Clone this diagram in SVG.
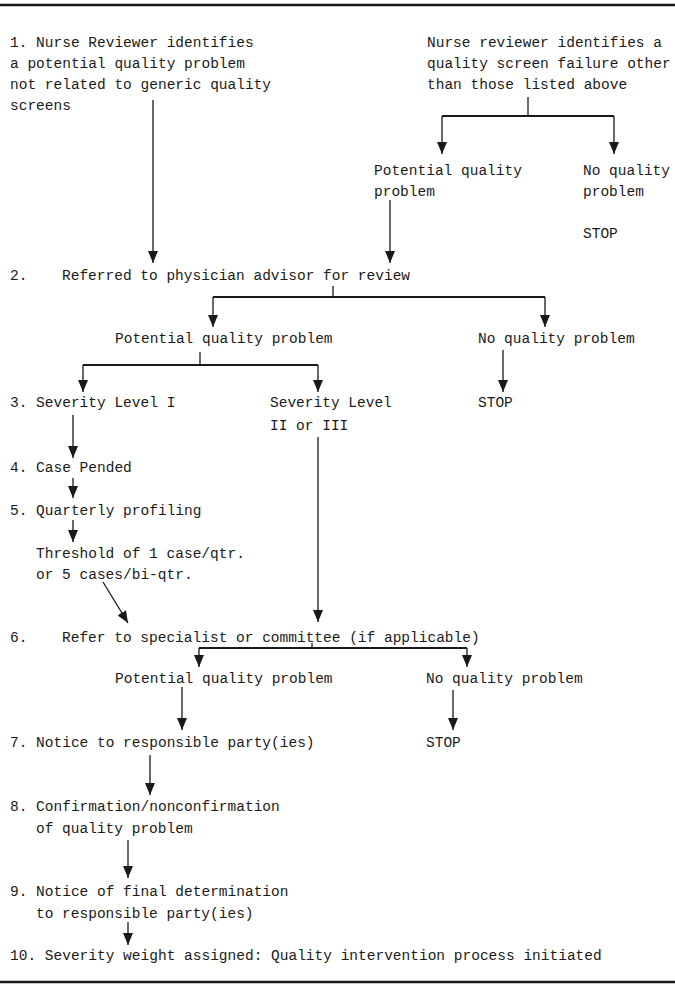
<svg xmlns="http://www.w3.org/2000/svg" width="675" height="987" viewBox="0 0 675 987">
<defs>
<marker id="ah" viewBox="0 0 12 10" refX="12" refY="5" markerWidth="12" markerHeight="10" markerUnits="userSpaceOnUse" orient="auto">
<path d="M0,0 L12,5 L0,10 z" fill="#1a1a1a"/>
</marker>
<style>
text{font-family:"Liberation Mono","DejaVu Sans Mono",monospace;font-size:14.5px;fill:#1a1a1a}
.ln{stroke:#1a1a1a;stroke-width:1.3;fill:none}
.ar{stroke:#1a1a1a;stroke-width:1.3;fill:none;marker-end:url(#ah)}
.bar{stroke:#1a1a1a;stroke-width:2;fill:none}
.rule{stroke:#1a1a1a;stroke-width:2.5}
</style>
</defs>
<rect width="675" height="987" fill="#fff"/>
<line class="rule" x1="0" y1="5" x2="675" y2="5"/>
<line class="rule" x1="0" y1="982" x2="675" y2="982"/>

<g id="n1"><text x="10" y="47">1. Nurse Reviewer identifies</text><text x="10" y="68">a potential quality problem</text><text x="10" y="89">not related to generic quality</text><text x="10" y="110">screens</text></g>
<g id="nScreen"><text x="427" y="47">Nurse reviewer identifies a</text><text x="427" y="68">quality screen failure other</text><text x="427" y="89">than those listed above</text></g>
<g id="nPot1"><text x="374" y="175">Potential quality</text><text x="374" y="196">problem</text></g>
<g id="nNo1"><text x="583" y="175">No quality</text><text x="583" y="196">problem</text><text x="583" y="238">STOP</text></g>
<g id="n2"><text x="10" y="280">2.</text><text x="62" y="280">Referred to physician advisor for review</text></g>
<g id="nPot2"><text x="115" y="343">Potential quality problem</text></g>
<g id="nNo2"><text x="478" y="343">No quality problem</text></g>
<g id="nStop2"><text x="478" y="407">STOP</text></g>
<g id="n3"><text x="10" y="407">3. Severity Level I</text></g>
<g id="n3b"><text x="270" y="407">Severity Level</text><text x="270" y="430">II or III</text></g>
<g id="n4"><text x="10" y="472">4. Case Pended</text></g>
<g id="n5"><text x="10" y="515">5. Quarterly profiling</text></g>
<g id="nThr"><text x="36" y="558">Threshold of 1 case/qtr.</text><text x="36" y="579">or 5 cases/bi-qtr.</text></g>
<g id="n6"><text x="10" y="642">6.</text><text x="62" y="642">Refer to specialist or committee (if applicable)</text></g>
<g id="nPot3"><text x="115" y="683">Potential quality problem</text></g>
<g id="nNo3"><text x="426" y="683">No quality problem</text></g>
<g id="n7"><text x="10" y="747">7. Notice to responsible party(ies)</text></g>
<g id="nStop3"><text x="426" y="747">STOP</text></g>
<g id="n8"><text x="10" y="811">8. Confirmation/nonconfirmation</text><text x="36" y="833">of quality problem</text></g>
<g id="n9"><text x="10" y="896">9. Notice of final determination</text><text x="36" y="918">to responsible party(ies)</text></g>
<g id="n10"><text x="10" y="960">10. Severity weight assigned: Quality intervention process initiated</text></g>

<g id="connectors">
<line class="ar" x1="153" y1="100" x2="153" y2="263"/>
<line class="ln" x1="528" y1="97" x2="528" y2="116"/>
<line class="bar" x1="442" y1="116" x2="614" y2="116"/>
<line class="ar" x1="442" y1="116" x2="442" y2="154"/>
<line class="ar" x1="614" y1="116" x2="614" y2="154"/>
<line class="ar" x1="390" y1="200" x2="390" y2="263"/>

<line class="ln" x1="333" y1="286" x2="333" y2="297"/>
<line class="bar" x1="213" y1="297" x2="545" y2="297"/>
<line class="ar" x1="213" y1="297" x2="213" y2="327"/>
<line class="ar" x1="545" y1="297" x2="545" y2="327"/>

<line class="ln" x1="200" y1="352" x2="200" y2="365"/>
<line class="bar" x1="83" y1="365" x2="318" y2="365"/>
<line class="ar" x1="83" y1="365" x2="83" y2="392"/>
<line class="ar" x1="318" y1="365" x2="318" y2="392"/>
<line class="ar" x1="503" y1="350" x2="503" y2="392"/>

<line class="ar" x1="73" y1="415" x2="73" y2="458"/>
<line class="ar" x1="73" y1="478" x2="73" y2="498"/>
<line class="ar" x1="73" y1="520" x2="73" y2="542"/>
<line class="ar" x1="103" y1="582" x2="128" y2="623"/>
<line class="ar" x1="318" y1="437" x2="318" y2="622"/>

<line class="ln" x1="312" y1="643" x2="312" y2="648"/>
<line class="bar" x1="199" y1="648" x2="467" y2="648"/>
<line class="ar" x1="199" y1="648" x2="199" y2="667"/>
<line class="ar" x1="467" y1="648" x2="467" y2="667"/>

<line class="ar" x1="182" y1="687" x2="182" y2="730"/>
<line class="ar" x1="453" y1="690" x2="453" y2="730"/>
<line class="ar" x1="150" y1="755" x2="150" y2="795"/>
<line class="ar" x1="128" y1="840" x2="128" y2="878"/>
<line class="ar" x1="128" y1="922" x2="128" y2="945"/>
</g>
</svg>
